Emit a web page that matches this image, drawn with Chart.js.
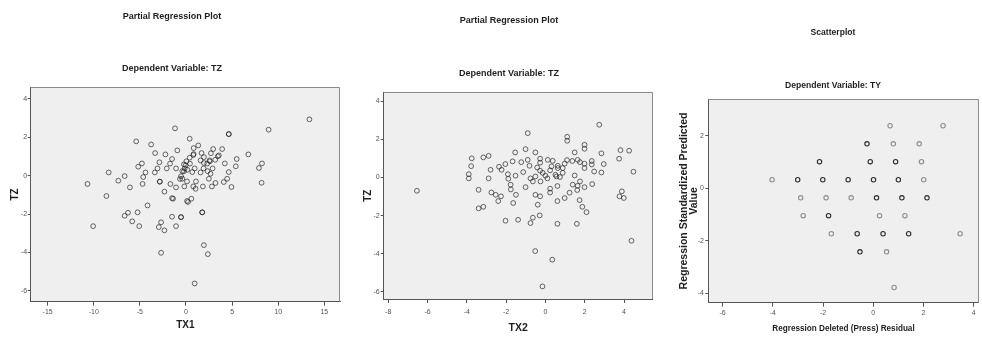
<!DOCTYPE html>
<html><head><meta charset="utf-8">
<script src="https://cdn.jsdelivr.net/npm/chart.js@4.4.1/dist/chart.umd.min.js"></script>
<style>
html,body{margin:0;padding:0;background:#fff;width:982px;height:338px;overflow:hidden}
canvas{position:absolute;top:0}
</style></head><body>
<canvas id="c1" width="345" height="338" style="left:0px"></canvas>
<canvas id="c2" width="315" height="338" style="left:345px"></canvas>
<canvas id="c3" width="322" height="338" style="left:660px"></canvas>
<script>
// ---------- Panel 1: Partial Regression Plot, TZ vs TX1 ----------
const TX1 = [13.38,8.96,-1.19,4.64,4.64,0.40,-5.40,-3.78,1.33,0.83,2.95,3.92,-0.94,1.69,-3.35,-2.23,2.70,0.79,6.76,3.45,
  -1.51,0.40,5.50,3.17,0.04,2.59,-2.88,-4.78,-1.73,1.94,4.21,8.24,-0.22,-5.18,-1.08,-2.09,-3.09,0.94,1.91,2.88,
  5.40,7.91,-0.14,0.14,2.34,-8.38,-4.39,-3.38,-0.40,1.58,4.64,-0.54,-4.64,-6.65,-0.65,2.48,4.46,-7.34,-2.84,-2.84,
  0.11,1.08,4.10,3.20,8.20,-10.68,-4.71,-1.69,-0.18,1.83,2.81,4.93,-6.08,-1.08,0.79,1.04,-2.34,-8.63,-1.51,-1.40,
  0.58,0.11,0.22,-4.17,1.76,1.76,-6.29,-5.25,-6.65,-1.51,-0.54,-0.54,-5.83,-2.70,-10.07,-5.07,-1.08,-2.95,-2.34,1.94,
  -2.70,2.37,0.94,-0.22,0.43,1.58,2.30,2.66,-0.40,3.56,2.55,0.68,1.94,-0.04,0.83];
const TZ1 = [2.94,2.40,2.47,2.17,2.17,1.93,1.79,1.63,1.58,1.44,1.39,1.39,1.32,1.18,1.18,1.11,1.17,1.08,1.11,1.01,
  0.87,0.94,0.87,0.83,0.75,0.75,0.70,0.64,0.63,0.66,0.64,0.64,0.59,0.47,0.38,0.38,0.38,0.38,0.38,0.38,
  0.49,0.40,0.38,0.31,0.24,0.17,0.17,0.17,0.24,0.17,0.19,-0.03,-0.07,-0.02,-0.17,-0.16,-0.16,-0.26,-0.31,-0.31,
  -0.30,-0.30,-0.33,-0.38,-0.37,-0.43,-0.43,-0.43,-0.56,-0.56,-0.56,-0.59,-0.61,-0.61,-0.56,-0.68,-0.83,-1.06,-1.17,-1.20,
  -1.20,-1.32,-1.37,-1.55,-1.91,-1.91,-1.93,-1.91,-2.09,-2.14,-2.16,-2.16,-2.38,-2.43,-2.63,-2.63,-2.63,-2.68,-2.85,-3.62,
  -4.02,-4.09,-5.62,0.23,0.63,0.80,0.63,0.10,-0.16,1.06,0.80,0.19,0.97,0.54,1.13];
const P1_X_TICKS = [-15,-10,-5,0,5,10,15];
const P1_Y_TICKS = [-6,-4,-2,0,2,4];

// ---------- Panel 2: Partial Regression Plot, TZ vs TX2 ----------
const TX2 = [-6.54,2.74,-0.90,1.11,1.11,1.99,1.99,-1.01,-1.54,-0.51,1.49,2.85,3.82,4.26,-2.89,-3.16,-3.75,3.75,-0.90,-0.27,
  0.12,0.37,1.10,1.37,1.64,2.36,-1.67,-1.23,-2.04,-0.27,1.76,1.99,2.97,2.36,0.98,-3.78,0.63,-2.36,-0.81,0.31,
  0.88,0.88,-0.14,0.24,0.63,-2.23,-2.79,-0.42,-0.27,1.99,2.48,2.85,4.48,-1.91,-1.13,-1.52,-3.90,-3.90,-0.76,-0.51,
  0.00,0.51,0.74,1.49,-2.89,-1.89,0.10,-0.64,-0.25,0.56,1.76,-1.77,1.39,2.38,1.64,0.61,-1.01,1.99,-3.40,-1.76,
  0.24,1.62,0.24,-2.75,1.23,3.89,-1.50,-0.51,-2.53,-0.27,3.77,3.99,0.98,-2.26,-2.40,1.74,0.61,-1.64,-0.39,1.88,
  -3.16,-3.40,2.09,-0.29,-0.64,-0.76,-2.03,-1.39,0.61,1.60,4.38,-0.52,0.35,-0.15];
const TZ2 = [-0.70,2.76,2.32,2.13,1.92,1.71,1.50,1.48,1.31,1.31,1.31,1.26,1.43,1.40,1.13,1.05,1.00,0.98,0.92,0.98,
  0.92,0.87,0.91,0.86,0.92,0.86,0.84,0.80,0.70,0.77,0.80,0.72,0.70,0.68,0.72,0.59,0.61,0.56,0.61,0.58,
  0.49,0.24,0.24,0.37,0.49,0.40,0.40,0.52,0.35,0.49,0.31,0.26,0.30,0.17,0.28,0.09,0.17,-0.05,-0.05,0.05,
  0.09,0.14,0.02,0.10,-0.05,-0.07,-0.05,-0.21,-0.21,0.05,-0.21,-0.38,-0.38,-0.35,-0.44,-0.45,-0.51,-0.51,-0.65,-0.63,
  -0.59,-0.66,-0.79,-0.79,-0.80,-0.73,-0.91,-0.91,-0.91,-0.99,-0.99,-1.08,-1.08,-0.99,-1.24,-1.19,-1.24,-1.34,-1.43,-1.54,
  -1.54,-1.62,-1.82,-1.99,-2.11,-2.39,-2.27,-2.22,-2.43,-2.43,-3.32,-3.86,-4.31,-5.71];
const P2_X_TICKS = [-8,-6,-4,-2,0,2,4];
const P2_Y_TICKS = [-6,-4,-2,0,2,4];

// ---------- Panel 3: Scatterplot, Dependent Variable TY ----------
const PRESS_RESID = [0.67,2.78,-0.25,0.80,1.83,-2.14,-0.12,0.89,1.92,-4.03,-3.01,-2.01,-1.00,0.01,1.00,2.01,
  -2.89,-1.88,-0.88,0.13,1.14,2.14,-2.79,-1.78,0.25,1.26,-1.67,-0.64,0.39,1.41,3.46,-0.53,0.53,0.83];
const STD_PRED = [2.39,2.39,1.70,1.70,1.70,1.02,1.02,1.02,1.02,0.33,0.33,0.33,0.33,0.33,0.33,0.33,
  -0.36,-0.36,-0.36,-0.36,-0.36,-0.36,-1.04,-1.04,-1.04,-1.04,-1.73,-1.73,-1.73,-1.73,-1.73,-2.42,-2.42,-3.78];
const CASES = [1,1,2,1,1,2,2,2,1,1,2,2,2,2,2,1,1,1,1,2,2,2,1,2,1,1,1,2,2,2,1,2,1,1];
const P3_X_TICKS = [-6,-4,-2,0,2,4];
const P3_Y_TICKS = [-4,-2,0,2];

// ---------- helpers ----------
function fontAvailable(name){
  const c = document.createElement('canvas').getContext('2d');
  const s = 'Partial Regression Plot 0123';
  c.font = '20px monospace'; const a = c.measureText(s).width;
  c.font = '20px "' + name + '", monospace';
  return Math.abs(c.measureText(s).width - a) > 0.5;
}
const NARROW = fontAvailable('Liberation Sans Narrow');
const FAM_TEXT = NARROW ? '"Liberation Sans Narrow", "Liberation Sans", Arial, sans-serif' : '"Liberation Sans", Arial, sans-serif';
const NSCALE = NARROW ? 1 : 0.86;
const FAM_AX = '"Liberation Sans", Arial, sans-serif';
const FAM_TICK = '"Liberation Sans", Arial, sans-serif';

const plotFrame = {
  id: 'plotFrame',
  beforeDraw(chart){
    const {ctx, chartArea: a} = chart;
    ctx.save();
    ctx.fillStyle = '#efefef';
    ctx.fillRect(a.left, a.top, a.right - a.left, a.bottom - a.top);
    ctx.restore();
  },
  beforeDatasetsDraw(chart){
    const {ctx, chartArea: a} = chart;
    ctx.save();
    ctx.strokeStyle = '#8a8a8a';
    ctx.lineWidth = 1;
    ctx.beginPath();
    ctx.moveTo(a.left, Math.round(a.top) + 0.5);
    ctx.lineTo(Math.round(a.right) - 0.5, Math.round(a.top) + 0.5);
    ctx.lineTo(Math.round(a.right) - 0.5, a.bottom);
    ctx.stroke();
    ctx.restore();
  }
};

function ticksFrom(arr){ return s => { s.ticks = arr.map(v => ({value: v})); }; }

function panel(id, o){
  const H = 338;
  const c = document.getElementById(id);
  const W = c.width;
  const tSize = o.titleSize * NSCALE;
  const lh = tSize * 1.2;
  const ylh = o.ytSize * o.ytLH;
  const xlh = o.xtSize * NSCALE * 1.2;
  return new Chart(c, {
    type: 'scatter',
    data: { datasets: [{
      data: o.xs.map((x, i) => ({x: x, y: o.ys[i]})),
      pointRadius: o.r, pointHoverRadius: o.r, pointBorderWidth: o.bw,
      pointBackgroundColor: 'rgba(0,0,0,0)',
      pointBorderColor: o.color
    }]},
    options: {
      responsive: false, animation: false, devicePixelRatio: 1, events: [],
      layout: { padding: { left: o.padL, right: W - o.R, top: 0, bottom: 0 } },
      plugins: {
        legend: { display: false }, tooltip: { enabled: false },
        title: { display: true, text: o.title, color: '#1e1e1e',
          font: { family: FAM_TEXT, size: tSize, weight: 'bold', lineHeight: 1.2 },
          padding: { top: o.ty - lh / 2, bottom: 0 } },
        subtitle: { display: true, text: o.sub, color: '#1e1e1e',
          font: { family: FAM_TEXT, size: tSize, weight: 'bold', lineHeight: 1.2 },
          padding: { top: o.sy - o.ty - lh, bottom: o.top - o.sy - lh / 2 } }
      },
      scales: {
        x: {
          type: 'linear', position: 'bottom', min: o.xmin, max: o.xmax,
          afterBuildTicks: ticksFrom(o.xticks),
          afterFit: s => { s.height = H - o.bottom; },
          ticks: { font: { family: FAM_TICK, size: 7 }, color: '#555', padding: o.xtickPad, autoSkip: false, maxRotation: 0 },
          grid: { display: true, drawOnChartArea: false, drawTicks: true, tickLength: 4, tickColor: '#555' },
          border: { display: true, color: '#555', width: 1 },
          title: { display: true, text: o.xt, color: '#1e1e1e',
            font: { family: o.xtNarrow ? FAM_TEXT : FAM_AX, size: o.xtNarrow ? o.xtSize * NSCALE : o.xtSize, weight: 'bold', lineHeight: 1.2 },
            padding: { top: 0, bottom: o.xtFromBottom - (o.xtNarrow ? xlh : o.xtSize * 1.2) / 2 } }
        },
        y: {
          type: 'linear', position: 'left', min: o.ymin, max: o.ymax,
          afterBuildTicks: ticksFrom(o.yticks),
          afterFit: s => { s.width = o.L - o.padL; },
          ticks: { font: { family: FAM_TICK, size: 7 }, color: '#555', padding: o.ytickPad, autoSkip: false },
          grid: { display: true, drawOnChartArea: false, drawTicks: true, tickLength: 3, tickColor: '#555' },
          border: { display: true, color: '#555', width: 1 },
          title: { display: true, text: o.yt, color: '#1e1e1e',
            font: { family: FAM_AX, size: o.ytSize, weight: 'bold', lineHeight: o.ytLH },
            padding: { top: o.ytX - o.padL - ylh / 2, bottom: 0 } }
        }
      }
    },
    plugins: [plotFrame]
  });
}

const darkLight = ctx => CASES[ctx.dataIndex] > 1 ? '#2b2b2b' : '#8e8e8e';

panel('c1', {
  xs: TX1, ys: TZ1, xticks: P1_X_TICKS, yticks: P1_Y_TICKS,
  xmin: -16.84, xmax: 16.7, ymin: -6.57, ymax: 4.61,
  title: 'Partial Regression Plot', sub: 'Dependent Variable: TZ', titleSize: 10.5,
  xt: 'TX1', xtSize: 10, xtNarrow: false, xtFromBottom: 13,
  yt: 'TZ', ytSize: 10, ytLH: 1.2, ytX: 15,
  L: 30.7, R: 340, top: 87.3, bottom: 301.7, padL: 4, ty: 17, sy: 69,
  xtickPad: 2.6, ytickPad: 0.5, r: 2.4, bw: 1, color: 'rgba(25,25,25,0.65)'
});
panel('c2', {
  xs: TX2, ys: TZ2, xticks: P2_X_TICKS, yticks: P2_Y_TICKS,
  xmin: -8.23, xmax: 5.46, ymin: -6.37, ymax: 4.46,
  title: 'Partial Regression Plot', sub: 'Dependent Variable: TZ', titleSize: 10.5,
  xt: 'TX2', xtSize: 10.5, xtNarrow: false, xtFromBottom: 10,
  yt: 'TZ', ytSize: 10, ytLH: 1.0, ytX: 23,
  L: 38.7, R: 307.7, top: 92.3, bottom: 299, padL: 20.3, ty: 21, sy: 74,
  xtickPad: 5.3, ytickPad: 1, r: 2.4, bw: 1, color: 'rgba(25,25,25,0.65)'
});
panel('c3', {
  xs: PRESS_RESID, ys: STD_PRED, xticks: P3_X_TICKS, yticks: P3_Y_TICKS,
  xmin: -6.57, xmax: 4.2, ymin: -4.36, ymax: 3.4,
  title: 'Scatterplot', sub: 'Dependent Variable: TY', titleSize: 10,
  xt: 'Regression Deleted (Press) Residual', xtSize: 9.5, xtNarrow: true, xtFromBottom: 9,
  yt: ['Regression Standardized Predicted', 'Value'], ytSize: 10.5, ytLH: 0.92, ytX: 24,
  L: 48.3, R: 321, top: 99.3, bottom: 302.7, padL: 25, ty: 33, sy: 85.5,
  xtickPad: 2.4, ytickPad: 1.3, r: 2.2, bw: 1.1, color: darkLight
});
</script>
</body></html>
